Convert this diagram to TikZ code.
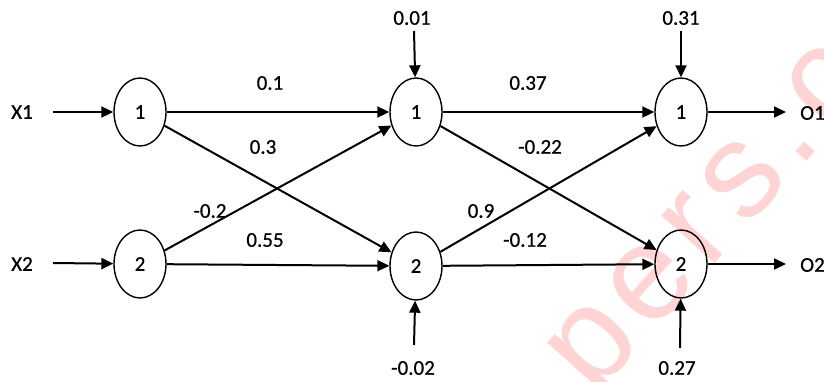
\documentclass[tikz,border=0pt]{standalone}
\usepackage{fontspec}
\setmainfont{Carlito}
\newfontfamily\lblfont{Carlito}[FakeBold=0.6]
\newfontfamily\wmfont{Liberation Sans}[LetterSpace=8]
\usetikzlibrary{shapes.geometric,arrows.meta}
\begin{document}
\begin{tikzpicture}[x=1pt,y=-1pt,
  neuron/.style={ellipse,draw,line width=1.4pt,minimum width=52pt,minimum height=68pt,inner sep=0pt,font=\lblfont\fontsize{21}{24}\selectfont},
  lbl/.style={font=\lblfont\fontsize{21}{24}\selectfont,inner sep=0pt},
  conn/.style={line width=2pt,-{Triangle[length=12pt,width=11pt]}}]
\useasboundingbox (0,0) rectangle (824,381);
\clip (0,0) rectangle (824,381);
\node[rotate=48,text=red!17,font=\wmfont\fontsize{135}{145}\selectfont,anchor=base west,inner sep=0pt] (wm) at (594,398) {pers.c};
\node[neuron] (i1) at (140,112) {1};
\node[neuron] (i2) at (140,264) {2};
\node[neuron] (h1) at (416,112) {1};
\node[neuron] (h2) at (416,266) {2};
\node[neuron] (o1) at (681,112) {1};
\node[neuron] (o2) at (681,264) {2};
\node[lbl] (x1) at (22,112) {X1};
\node[lbl] (x2) at (22,264) {X2};
\coordinate (x1s) at (53,112);
\coordinate (x2s) at (53,263);
\draw[conn] (x1s) -- (i1);
\draw[conn] (x2s) -- (i2);
\draw[conn] (i1) -- (h1);
\draw[conn] (i1) -- (h2);
\draw[conn] (i2) -- (h1);
\draw[conn] (i2) -- (h2);
\draw[conn] (h1) -- (o1);
\draw[conn] (h1) -- (o2);
\draw[conn] (h2) -- (o1);
\draw[conn] (h2) -- (o2);
\node[lbl] (w11) at (270,83) {0.1};
\node[lbl] (w12) at (263,147) {0.3};
\node[lbl] (w21) at (210,211) {-0.2};
\node[lbl] (w22) at (265,240) {0.55};
\node[lbl] (v11) at (528,83) {0.37};
\node[lbl] (v12) at (540,147) {-0.22};
\node[lbl] (v21) at (481,211) {0.9};
\node[lbl] (v22) at (525,240) {-0.12};
\node[lbl] (b1) at (412,18) {0.01};
\node[lbl] (b2) at (413,368) {-0.02};
\node[lbl] (b3) at (681,18) {0.31};
\node[lbl] (b4) at (677,368) {0.27};
\coordinate (b1s) at (414,31);
\coordinate (b2s) at (414,345);
\coordinate (b3s) at (681,31);
\coordinate (b4s) at (680,348);
\draw[conn] (b1s) -- (h1);
\draw[conn] (b2s) -- (h2);
\draw[conn] (b3s) -- (o1);
\draw[conn] (b4s) -- (o2);
\coordinate (o1e) at (786,112);
\coordinate (o2e) at (786,264);
\draw[conn] (o1) -- (o1e);
\draw[conn] (o2) -- (o2e);
\node[lbl,anchor=west] (out1) at (800,113) {O1};
\node[lbl,anchor=west] (out2) at (800,265) {O2};
\end{tikzpicture}
\end{document}
